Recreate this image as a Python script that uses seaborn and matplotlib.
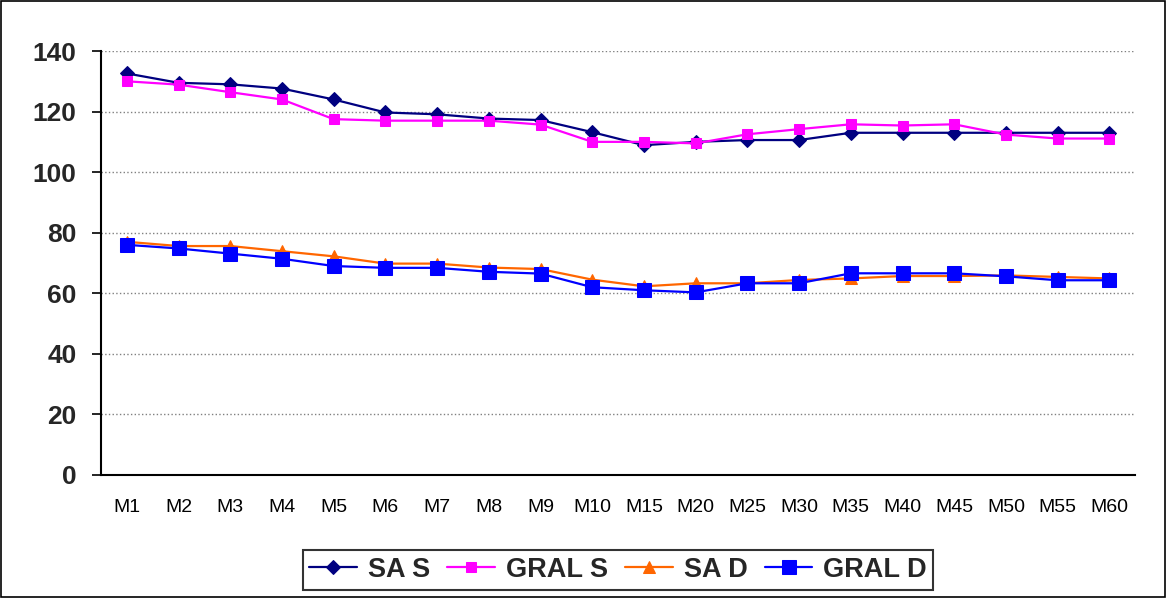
import numpy as np
import pandas as pd
import seaborn as sns
import matplotlib.pyplot as plt
from matplotlib.patches import Rectangle

# categories and series
months = ["M1", "M2", "M3", "M4", "M5", "M6", "M7", "M8", "M9", "M10",
          "M15", "M20", "M25", "M30", "M35", "M40", "M45", "M50", "M55", "M60"]
sa_s = [132.6, 129.5, 129.0, 127.6, 124.0, 119.7, 119.1, 117.7, 117.2, 113.2,
        108.9, 110.0, 110.6, 110.6, 113.0, 113.0, 113.0, 113.0, 113.0, 113.0]
gral_s = [130.0, 128.9, 126.4, 124.0, 117.5, 117.0, 117.0, 117.0, 115.7, 110.0,
          110.0, 109.5, 112.5, 114.2, 115.8, 115.4, 115.8, 112.4, 111.1, 111.1]
sa_d = [77.0, 75.6, 75.6, 73.9, 72.2, 69.8, 69.8, 68.5, 68.0, 64.5,
        62.3, 63.3, 63.3, 64.4, 64.9, 65.7, 65.7, 65.9, 65.4, 64.9]
gral_d = [76.0, 74.8, 73.1, 71.4, 69.0, 68.4, 68.4, 67.1, 66.5, 62.0,
          61.0, 60.3, 63.3, 63.3, 66.6, 66.6, 66.6, 65.6, 64.3, 64.3]

series_names = ["SA S", "GRAL S", "SA D", "GRAL D"]
colors = ["#000080", "#FF00FF", "#FF6600", "#0000FF"]
markers = ["D", "s", "^", "s"]
msizes = [7.5, 7.5, 8, 9.5]

rows = []
for name, vals in zip(series_names, [sa_s, gral_s, sa_d, gral_d]):
    for i, v in enumerate(vals):
        rows.append({"pos": i, "month": months[i], "value": v, "serie": name})
df = pd.DataFrame(rows)

sns.set_style("white")
plt.rcParams['font.family'] = ['Liberation Sans', 'DejaVu Sans']

fig = plt.figure(figsize=(11.66, 5.98), dpi=100)
ax = fig.add_axes([0.0866, 0.2057, 0.887, 0.709])

for name, col, mk, ms in zip(series_names, colors, markers, msizes):
    sns.lineplot(data=df[df["serie"] == name], x="pos", y="value", ax=ax,
                 color=col, marker=mk, markersize=ms, markeredgecolor=col,
                 linewidth=1.6, label=name, sort=False)

ax.set_xlim(-0.5, len(months) - 0.5)
ax.set_ylim(0, 140)
ax.set_yticks(range(0, 141, 20))
ax.set_yticklabels([str(v) for v in range(0, 141, 20)], fontsize=19, fontweight="bold")
ax.set_xticks(range(len(months)))
ax.set_xticklabels(months, fontsize=14, color="black")
ax.set_xticks(np.arange(-0.5, len(months), 1), minor=True)
ax.tick_params(axis="x", which="major", length=0, pad=17)
ax.tick_params(axis="x", which="minor", length=5, width=1.2, color="black", direction="out")
ax.tick_params(axis="y", length=6.5, width=1.2, color="black", direction="out", left=True, pad=11)
ax.set_xlabel("")
ax.set_ylabel("")

ax.yaxis.grid(True, color="#808080", linestyle=":", linewidth=1)
ax.xaxis.grid(False)
for s in ["top", "right"]:
    ax.spines[s].set_visible(False)
for s in ["left", "bottom"]:
    ax.spines[s].set_color("black")
    ax.spines[s].set_linewidth(1.5)

leg = ax.legend(loc="center", bbox_to_anchor=(0.5, -0.224), ncol=4, frameon=True,
                fancybox=False, edgecolor="black", fontsize=19.5, handlelength=1.75,
                columnspacing=0.65, handletextpad=0.4, borderpad=0.25)
leg.get_frame().set_linewidth(1.5)
for t in leg.get_texts():
    t.set_fontweight("bold")

fig.patches.append(Rectangle((0.001, 0.001), 0.998, 0.997, transform=fig.transFigure,
                             fill=False, edgecolor="black", linewidth=1.2))

fig.savefig("out.png", dpi=100)
